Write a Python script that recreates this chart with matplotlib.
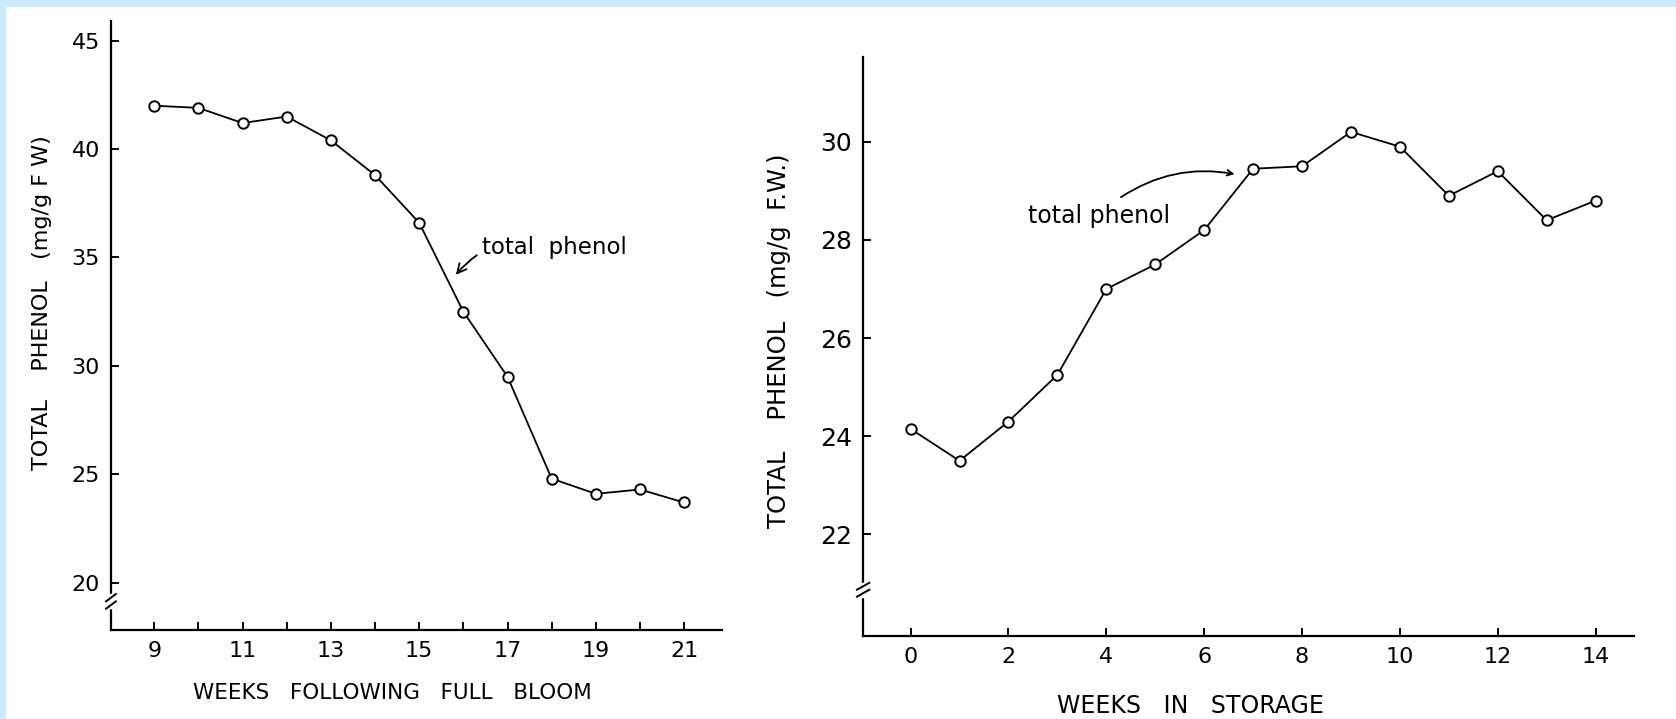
import numpy as np
import matplotlib.pyplot as plt
from matplotlib.patches import Rectangle

# Total phenol during fruit development (left) and in storage (right)
weeks_bloom = [9, 10, 11, 12, 13, 14, 15, 16, 17, 18, 19, 20, 21]
phenol_bloom = [42.0, 41.9, 41.2, 41.5, 40.4, 38.8, 36.6, 32.5, 29.5, 24.8, 24.1, 24.3, 23.7]

weeks_storage = [0, 1, 2, 3, 4, 5, 6, 7, 8, 9, 10, 11, 12, 13, 14]
phenol_storage = [24.15, 23.5, 24.3, 25.25, 27.0, 27.5, 28.2, 29.45, 29.5, 30.2, 29.9, 28.9, 29.4, 28.4, 28.8]

left_yticks = [20, 25, 30, 35, 40, 45]
right_yticks = [22, 24, 26, 28, 30]

fig = plt.figure(figsize=(16.76, 7.19), dpi=100)
fig.patch.set_facecolor('white')

# light blue frame of the scan
blue = '#cce9fd'
fig.patches.append(Rectangle((0, 1 - 6/719), 1, 6/719, transform=fig.transFigure, color=blue, zorder=0))
fig.patches.append(Rectangle((0, 0), 5/1676, 1, transform=fig.transFigure, color=blue, zorder=0))

ax1 = fig.add_axes([0.0662, 0.1238, 0.3644, 0.8474])
ax2 = fig.add_axes([0.5150, 0.1154, 0.4601, 0.8049])

def style(ax, xlim, ylim):
    ax.set_xlim(*xlim)
    ax.set_ylim(*ylim)
    ax.spines['top'].set_visible(False)
    ax.spines['right'].set_visible(False)
    for s in ['left', 'bottom']:
        ax.spines[s].set_linewidth(1.6)
    ax.tick_params(direction='in', width=1.4, length=6, labelsize=16, pad=8)

def add_break(ax, y):
    # small double slash on the y axis
    ax.plot([0, 0], [y - 0.004, y + 0.016], transform=ax.transAxes, color='white', lw=2.5,
            clip_on=False, zorder=3)
    for dy in (0, 0.012):
        ax.plot([-0.008, 0.008], [y + dy - 0.006, y + dy + 0.006], transform=ax.transAxes,
                color='black', lw=1.4, clip_on=False, zorder=4)

# left panel
style(ax1, (8.02, 21.85), (17.82, 45.92))
ax1.plot(weeks_bloom, phenol_bloom, '-o', color='black', lw=1.3, ms=7.5,
         mfc='white', mec='black', mew=1.4)
ax1.set_xticks(weeks_bloom)
ax1.set_xticklabels([str(w) if w % 2 == 1 else '' for w in weeks_bloom])
ax1.set_yticks(left_yticks)
ax1.set_xlabel('WEEKS   FOLLOWING   FULL   BLOOM', fontsize=15.5, va='center')
ax1.xaxis.set_label_coords(0.46, -0.103)
ax1.set_ylabel('TOTAL    PHENOL   (mg/g F W)', fontsize=16, va='center')
ax1.yaxis.set_label_coords(-0.113, 0.537)
ax1.annotate('total  phenol', xy=(15.83, 34.2), xytext=(16.42, 35.44),
             fontsize=16.5, va='center', ha='left',
             arrowprops=dict(arrowstyle='->', color='black', lw=1.3,
                             connectionstyle='arc3,rad=0.35', shrinkA=2, shrinkB=0))
add_break(ax1, 0.041)

# right panel
style(ax2, (-0.97, 14.79), (19.93, 31.72))
ax2.plot(weeks_storage, phenol_storage, '-o', color='black', lw=1.3, ms=7.5,
         mfc='white', mec='black', mew=1.4)
ax2.set_xticks(weeks_storage[::2])
ax2.set_yticks(right_yticks)
ax2.tick_params(axis='y', labelsize=18)
ax2.set_xlabel('WEEKS   IN   STORAGE', fontsize=17, va='center')
ax2.xaxis.set_label_coords(0.424, -0.121)
ax2.set_ylabel('TOTAL    PHENOL   (mg/g  F.W.)', fontsize=17.5, va='center')
ax2.yaxis.set_label_coords(-0.109, 0.51)
ax2.annotate('total phenol', xy=(6.62, 29.34), xytext=(2.4, 28.49),
             fontsize=17, va='center', ha='left')
ax2.annotate('', xy=(6.62, 29.34), xytext=(4.3, 28.87),
             arrowprops=dict(arrowstyle='->', color='black', lw=1.3,
                             connectionstyle='arc3,rad=-0.2', shrinkA=0, shrinkB=0))
add_break(ax2, 0.074)

fig.savefig('out.png', dpi=100)
